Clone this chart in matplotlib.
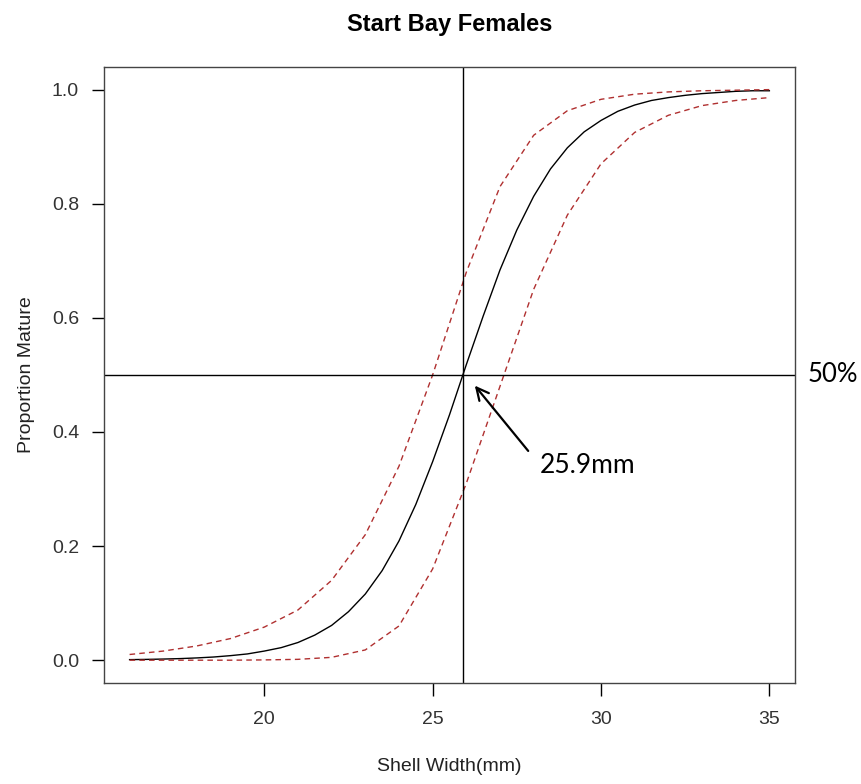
import numpy as np
import matplotlib
matplotlib.use('Agg')
from matplotlib import pyplot as plt

# fitted curve (0.5 mm steps)
width_fit = [16, 16.5, 17, 17.5, 18, 18.5, 19, 19.5, 20, 20.5, 21, 21.5, 22, 22.5,
             23, 23.5, 24, 24.5, 25, 25.5, 26, 26.5, 27, 27.5, 28, 28.5, 29, 29.5,
             30, 30.5, 31, 31.5, 32, 32.5, 33, 33.5, 34, 34.5, 35]
prop_fit = [0.001, 0.0014, 0.002, 0.0028, 0.004, 0.0056, 0.008, 0.011, 0.016, 0.022,
            0.031, 0.044, 0.061, 0.085, 0.116, 0.157, 0.209, 0.273, 0.348, 0.430,
            0.518, 0.603, 0.684, 0.754, 0.813, 0.861, 0.898, 0.926, 0.946, 0.962,
            0.973, 0.981, 0.986, 0.990, 0.993, 0.995, 0.997, 0.998, 0.998]

# confidence bands (1 mm steps)
width_ci = [16, 17, 18, 19, 20, 21, 22, 23, 24, 25, 26, 27, 28, 29, 30, 31, 32, 33, 34, 35]
ci_upper = [0.010, 0.016, 0.025, 0.038, 0.058, 0.088, 0.14, 0.22, 0.34, 0.50,
            0.68, 0.83, 0.92, 0.963, 0.983, 0.992, 0.996, 0.998, 0.999, 1.0]
ci_lower = [0.0, 0.0, 0.0, 0.0, 0.0005, 0.0015, 0.005, 0.018, 0.06, 0.16,
            0.31, 0.48, 0.65, 0.78, 0.87, 0.925, 0.955, 0.972, 0.981, 0.986]

l50 = 25.9

plt.rcParams['font.family'] = ['Liberation Sans', 'DejaVu Sans']

fig = plt.figure(figsize=(8.61, 7.84), dpi=100)
ax = fig.add_axes([0.1208, 0.1288, 0.8025, 0.786])

ax.plot(width_fit, prop_fit, color='black', lw=1)
ax.plot(width_ci, ci_upper, color='#b03030', lw=1, ls=(0, (4, 3)))
ax.plot(width_ci, ci_lower, color='#b03030', lw=1, ls=(0, (4, 3)))
ax.axvline(l50, color='black', lw=1)
ax.axhline(0.5, color='black', lw=1)

ax.set_xlim(15.24, 35.76)
ax.set_ylim(-0.04, 1.04)
ax.set_xticks([20, 25, 30, 35])
ax.set_yticks([0.0, 0.2, 0.4, 0.6, 0.8, 1.0])
ax.set_yticklabels(['0.0', '0.2', '0.4', '0.6', '0.8', '1.0'])
ax.tick_params(axis='x', length=9, width=1, pad=11, labelsize=14, labelcolor='#333333')
ax.tick_params(axis='y', length=9, width=1, pad=9, labelsize=14, labelcolor='#333333')
for s in ax.spines.values():
    s.set_linewidth(1)
    s.set_color('#444444')

ax.set_xlabel('Shell Width(mm)', fontsize=14, color='#222222', labelpad=22)
ax.set_ylabel('Proportion Mature', fontsize=14, color='#222222', labelpad=12)
ax.set_title('Start Bay Females', fontsize=17, fontweight='bold', pad=26)

# pasted-on annotations
ax.annotate('', xy=(26.2, 0.485), xytext=(27.89, 0.363),
            arrowprops=dict(arrowstyle='->', lw=1.6, color='black', mutation_scale=22))
ax.text(28.18, 0.342, '25.9mm', fontsize=19, family=['Lato', 'DejaVu Sans'],
        va='center', ha='left')
ax.text(36.13, 0.5, '50%', fontsize=18.5, family=['Lato', 'DejaVu Sans'],
        va='center', ha='left', clip_on=False)

plt.savefig('out.png', dpi=100)
